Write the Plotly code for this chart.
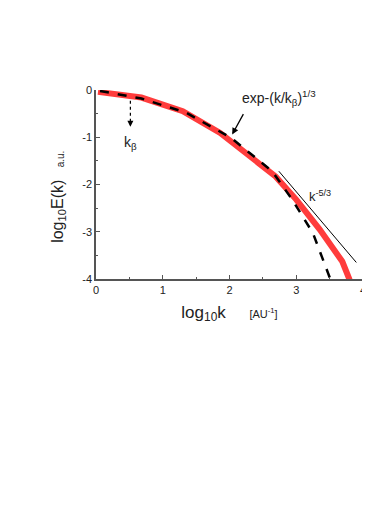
import plotly.graph_objects as go

# values (log10 k, log10 E)
red_x = [0.03, 0.68, 1.30, 1.86, 2.43, 2.69, 3.00, 3.35, 3.69, 3.80]
red_y = [-0.04, -0.16, -0.45, -0.91, -1.54, -1.83, -2.32, -2.95, -3.63, -4.02]

fit_x = [0.06, 0.68, 1.35, 2.02, 2.64, 2.94, 3.25, 3.51]
fit_y = [-0.02, -0.18, -0.48, -1.01, -1.72, -2.32, -3.03, -4.0]

slope_x = [2.74, 3.90]
slope_y = [-1.72, -3.65]

x_ticks = [0, 1, 2, 3, 4]
y_ticks = [0, -1, -2, -3, -4]
y_ticktext = ['0', '-1', '-2', '-3', '-4']

fig = go.Figure()

fig.add_trace(go.Scatter(x=red_x, y=red_y, mode='lines',
                         line=dict(color='rgb(255,60,60)', width=6)))
fig.add_trace(go.Scatter(x=fit_x, y=fit_y, mode='lines',
                         line=dict(color='black', width=2.5, dash='dash')))
fig.add_trace(go.Scatter(x=slope_x, y=slope_y, mode='lines',
                         line=dict(color='black', width=1)))

font = 'Liberation Sans, Arial, sans-serif'

# dotted arrow for k_beta
fig.add_shape(type='line', x0=0.515, x1=0.515, y0=-0.23, y1=-0.7,
              line=dict(color='black', width=1.2, dash='dot'))
fig.add_annotation(x=0.515, y=-0.78, ax=0.515, ay=-0.66, xref='x', yref='y',
                   axref='x', ayref='y', text='', showarrow=True,
                   arrowhead=2, arrowsize=1, arrowwidth=1.2, arrowcolor='black')
fig.add_annotation(x=0.52, y=-1.12, text='k<sub>β</sub>', showarrow=False,
                   font=dict(size=14, color='#222', family=font))

# annotation for the stretched exponential
fig.add_annotation(x=2.04, y=-0.94, ax=2.22, ay=-0.48, xref='x', yref='y',
                   axref='x', ayref='y', text='', showarrow=True,
                   arrowhead=2, arrowsize=1, arrowwidth=1.3, arrowcolor='black')
fig.add_annotation(x=2.74, y=-0.17, text='exp-(k/k<sub>β</sub>)<sup>1/3</sup>',
                   showarrow=False, font=dict(size=14, color='#222', family=font))
fig.add_annotation(x=3.36, y=-2.25, text='k<sup>-5/3</sup>',
                   showarrow=False, font=dict(size=13, color='#222', family=font))

# y title is sitting a bit below the middle, so place it by hand
fig.add_annotation(xref='paper', yref='paper', x=-0.139, y=0.36,
                   text='log<sub>10</sub>E(k)', textangle=-90, showarrow=False,
                   xanchor='center', yanchor='middle',
                   font=dict(size=16, color='#222', family=font))
fig.add_annotation(xref='paper', yref='paper', x=-0.135, y=0.638,
                   text='a.u.', textangle=-90, showarrow=False,
                   xanchor='center', yanchor='middle',
                   font=dict(size=10, color='#222', family=font))

# page body has an 8px margin, so the figure is a bit smaller than the window
fig.update_layout(
    width=362, height=522,
    margin=dict(l=88, r=7, t=82, b=251),
    plot_bgcolor='white', paper_bgcolor='white',
    showlegend=False,
    font=dict(family=font, color='#222'),
    xaxis=dict(
        range=[0, 4], tickvals=x_ticks, ticks='inside', ticklen=4,
        showgrid=False, zeroline=False, showline=True, linecolor='#555',
        linewidth=1.5, tickcolor='#555', tickfont=dict(size=11),
        minor=dict(ticks='inside', dtick=0.5, ticklen=2, tickcolor='#555'),
        automargin=False,
        title=dict(text='log<sub>10</sub>k     <span style="font-size:11px">[AU<sup>-1</sup>]</span>',
                   font=dict(size=17), standoff=11),
    ),
    yaxis=dict(
        range=[-4, 0], tickvals=y_ticks, ticktext=y_ticktext, ticks='inside',
        ticklen=4, showgrid=False, zeroline=False, showline=True,
        linecolor='#555', linewidth=1.5, tickcolor='#555', tickfont=dict(size=11),
        minor=dict(ticks='inside', dtick=0.5, ticklen=2, tickcolor='#555'),
        automargin=False,
    ),
)

fig.write_html('out.html')
